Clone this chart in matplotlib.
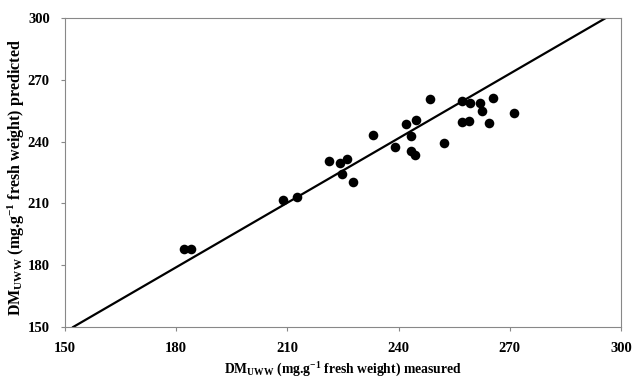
import matplotlib
matplotlib.use("Agg")
import matplotlib.pyplot as plt

# measured vs predicted DM (mg/g fresh weight)
measured = [182.1, 183.9, 208.7, 212.6, 221.1, 224.2, 226.0, 224.6, 227.8,
            233.0, 238.9, 242.0, 244.7, 243.3, 243.3, 244.4, 248.5, 252.2,
            257.0, 259.3, 262.0, 262.6, 265.4, 271.1, 257.2, 259.1, 264.4]
predicted = [187.7, 187.9, 211.6, 213.3, 230.6, 229.8, 231.4, 224.1, 220.5,
             243.1, 237.5, 248.7, 250.5, 242.9, 235.6, 233.5, 260.7, 239.2,
             259.9, 258.6, 258.6, 255.0, 261.0, 253.7, 249.7, 250.1, 248.9]

# regression line end points
line_x = [152.2, 295.9]
line_y = [150, 300]

ticks = [150, 180, 210, 240, 270, 300]

plt.rcParams['font.family'] = ['Liberation Serif', 'DejaVu Serif']
plt.rcParams['font.weight'] = 'bold'
plt.rcParams['mathtext.fontset'] = 'custom'
plt.rcParams['mathtext.rm'] = 'Liberation Serif:bold'
plt.rcParams['mathtext.it'] = 'Liberation Serif:bold'
plt.rcParams['mathtext.bf'] = 'Liberation Serif:bold'

fig = plt.figure(figsize=(6.32, 3.81), dpi=100)
ax = fig.add_axes([0.1029, 0.1417, 0.8797, 0.8111])

ax.plot(line_x, line_y, '-', color='black', lw=1.6, zorder=2)
ax.scatter(measured, predicted, s=48, color='black', zorder=3, linewidths=0)

ax.set_xlim(150, 300)
ax.set_ylim(150, 300)
ax.set_xticks(ticks)
ax.set_yticks(ticks)
ax.tick_params(direction='out', length=3, width=0.8, color='#888888',
               labelsize=10.5, pad=8)
for lab in ax.get_xticklabels() + ax.get_yticklabels():
    lab.set_fontweight('bold')
for sp in ax.spines.values():
    sp.set_color('#888888')
    sp.set_linewidth(0.8)

ax.set_xlabel(r'DM$_{\mathrm{UWW}}$ (mg.g$^{-1}$ fresh weight) measured',
              fontsize=9.8, fontweight='bold', labelpad=4)
ax.set_ylabel(r'DM$_{\mathrm{UWW}}$ (mg.g$^{-1}$ fresh weight) predicted',
              fontsize=11.5, fontweight='bold')
ax.yaxis.set_label_coords(-0.068, 0.485)

fig.savefig('out.png', dpi=100)
